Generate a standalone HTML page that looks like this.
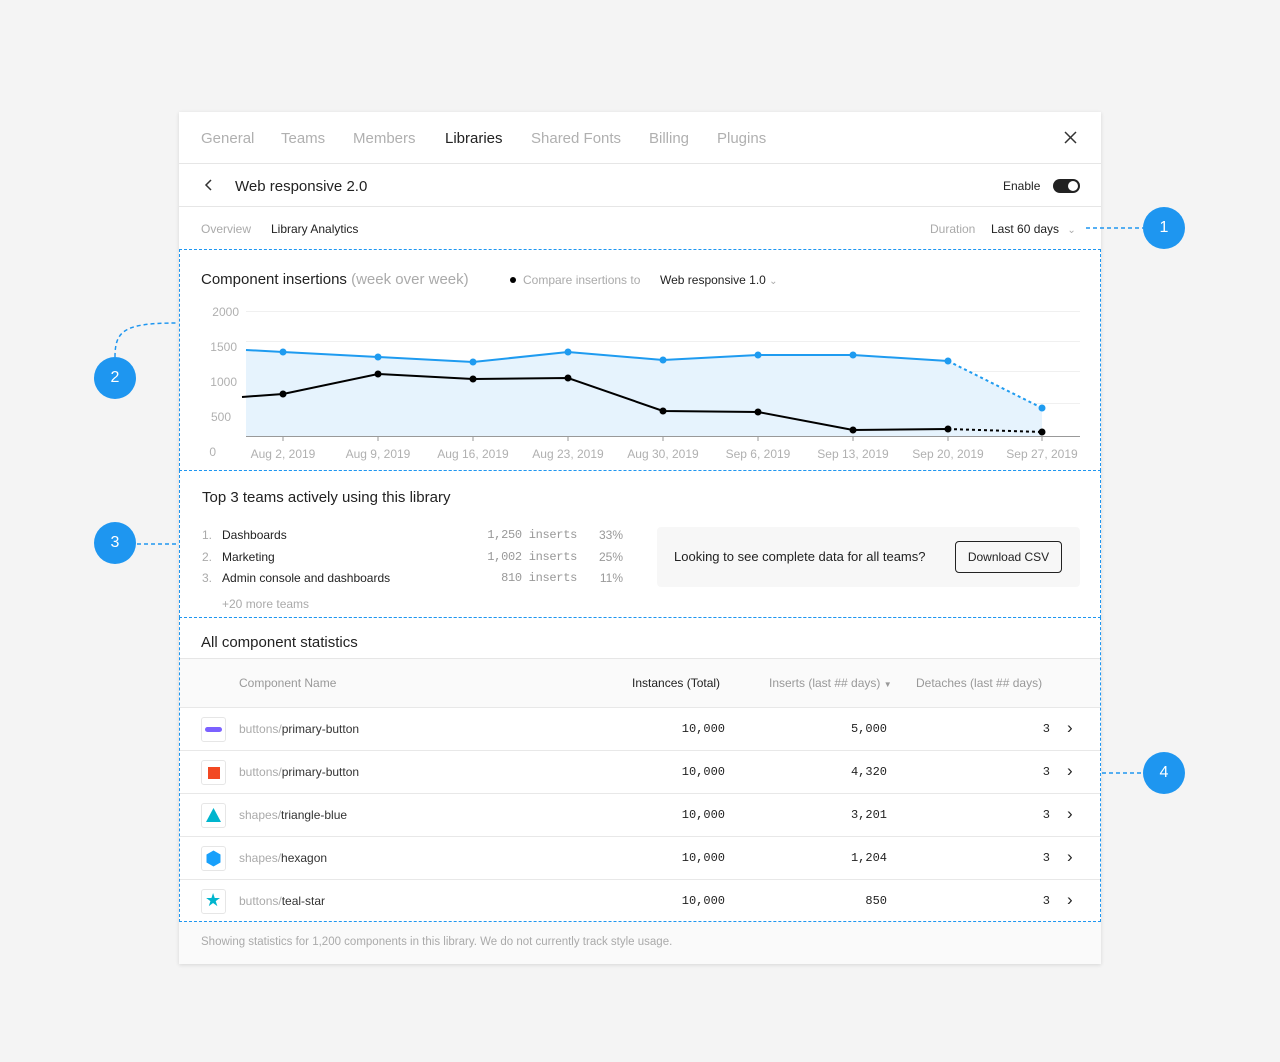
<!DOCTYPE html>
<html><head><meta charset="utf-8"><style>
*{margin:0;padding:0;box-sizing:border-box}
body{width:1280px;height:1062px;background:#f4f4f4;font-family:"Liberation Sans",sans-serif;position:relative;overflow:hidden;color:#222}
.a{position:absolute;white-space:nowrap}
.card{position:absolute;left:179px;top:112px;width:922px;height:852px;background:#fff;box-shadow:0 1px 4px rgba(0,0,0,.12)}
.hl{position:absolute;left:179px;width:922px;height:1px;background:#e6e6e6}
.g{color:#aaa}
.tab{font-size:15px;color:#b0b0b0;top:130px}
.row{position:absolute;left:180px;width:920px;height:43px;border-top:1px solid #e8e8e8}
.ic{position:absolute;left:21px;top:9px;width:25px;height:25px;border:1px solid #e6e6e6;border-radius:3px}
.nm{position:absolute;left:59px;top:14px;font-size:12px;color:#333}
.num{position:absolute;top:14px;font-size:12px;font-family:"Liberation Mono",monospace;color:#222;text-align:right}
.dot{position:absolute;width:42px;height:42px;border-radius:50%;background:#1e96f0;color:#fff;font-size:16px;text-align:center;line-height:42px}
.box{position:absolute;border:1.5px dashed #1e96f0}
</style></head><body>
<div class="card"></div>
<div class="a tab" style="left:201px">General</div>
<div class="a tab" style="left:281px">Teams</div>
<div class="a tab" style="left:353px">Members</div>
<div class="a tab" style="left:445px;color:#222">Libraries</div>
<div class="a tab" style="left:531px">Shared Fonts</div>
<div class="a tab" style="left:649px">Billing</div>
<div class="a tab" style="left:717px">Plugins</div>
<div class="hl" style="top:163px"></div>
<div class="a" style="left:235px;top:178px;font-size:15px;color:#222">Web responsive 2.0</div>
<div class="a" style="left:1003px;top:179px;font-size:12px">Enable</div>
<div class="a" style="left:1053px;top:179px;width:27px;height:14px;border-radius:7px;background:#222"><div style="position:absolute;right:2px;top:2px;width:10px;height:10px;border-radius:5px;background:#fff"></div></div>
<div class="hl" style="top:206px"></div>
<div class="a g" style="left:201px;top:222px;font-size:12px">Overview</div>
<div class="a" style="left:271px;top:222px;font-size:12px">Library Analytics</div>
<div class="a g" style="left:930px;top:222px;font-size:12px">Duration</div>
<div class="a" style="left:991px;top:222px;font-size:12px">Last 60 days <span class="g" style="margin-left:5px;font-size:10px">⌄</span></div>

<div class="a" style="left:201px;top:271px;font-size:15px">Component insertions <span class="g">(week over week)</span></div>
<div class="a" style="left:510px;top:277px;width:6px;height:6px;border-radius:3px;background:#000"></div>
<div class="a g" style="left:523px;top:273px;font-size:12px">Compare insertions to</div>
<div class="a" style="left:660px;top:273px;font-size:12px">Web responsive 1.0 <span class="g" style="font-size:10px">⌄</span></div>
<svg class="a" style="left:0;top:0" width="1280" height="1062">
<g stroke="#333" stroke-width="1.5" fill="none"><line x1="1065" y1="132" x2="1076" y2="143"/><line x1="1076" y1="132" x2="1065" y2="143"/><polyline points="211,180 206,185 211,190"/></g>
<g font-family="Liberation Sans" font-size="12" fill="#b0b0b0" text-anchor="end">
<text x="239" y="316">2000</text><text x="237" y="351">1500</text><text x="237" y="386">1000</text><text x="231" y="421">500</text><text x="216" y="456">0</text></g>
<g stroke="#f0f0f0"><line x1="246" x2="1080" y1="311.5" y2="311.5"/><line x1="246" x2="1080" y1="341.5" y2="341.5"/><line x1="246" x2="1080" y1="371.5" y2="371.5"/><line x1="246" x2="1080" y1="403.5" y2="403.5"/></g>
<polygon fill="#e6f3fd" points="246,350 283,352 378,357 473,362 568,352 663,360 758,355 853,355 948,361 1042,408 1042,436 246,436"/>
<line x1="246" x2="1080" y1="436.5" y2="436.5" stroke="#999"/>
<g stroke="#999"><line x1="283" x2="283" y1="436" y2="441"/><line x1="378" x2="378" y1="436" y2="441"/><line x1="473" x2="473" y1="436" y2="441"/><line x1="568" x2="568" y1="436" y2="441"/><line x1="663" x2="663" y1="436" y2="441"/><line x1="758" x2="758" y1="436" y2="441"/><line x1="853" x2="853" y1="436" y2="441"/><line x1="948" x2="948" y1="436" y2="441"/><line x1="1042" x2="1042" y1="436" y2="441"/></g>
<polyline fill="none" stroke="#1e9bf0" stroke-width="2" points="246,350 283,352 378,357 473,362 568,352 663,360 758,355 853,355 948,361"/>
<line x1="948" y1="361" x2="1042" y2="408" stroke="#1e9bf0" stroke-width="2" stroke-dasharray="3,3"/>
<polyline fill="none" stroke="#000" stroke-width="2" points="242,397 283,394 378,374 473,379 568,378 663,411 758,412 853,430 948,429"/>
<line x1="948" y1="429" x2="1042" y2="432" stroke="#000" stroke-width="2" stroke-dasharray="3,3"/>
<g fill="#1e9bf0"><circle cx="283" cy="352" r="3.5"/><circle cx="378" cy="357" r="3.5"/><circle cx="473" cy="362" r="3.5"/><circle cx="568" cy="352" r="3.5"/><circle cx="663" cy="360" r="3.5"/><circle cx="758" cy="355" r="3.5"/><circle cx="853" cy="355" r="3.5"/><circle cx="948" cy="361" r="3.5"/><circle cx="1042" cy="408" r="3.5"/></g>
<g fill="#000"><circle cx="283" cy="394" r="3.5"/><circle cx="378" cy="374" r="3.5"/><circle cx="473" cy="379" r="3.5"/><circle cx="568" cy="378" r="3.5"/><circle cx="663" cy="411" r="3.5"/><circle cx="758" cy="412" r="3.5"/><circle cx="853" cy="430" r="3.5"/><circle cx="948" cy="429" r="3.5"/><circle cx="1042" cy="432" r="3.5"/></g>
<g font-family="Liberation Sans" font-size="12" fill="#b0b0b0" text-anchor="middle">
<text x="283" y="458">Aug 2, 2019</text><text x="378" y="458">Aug 9, 2019</text><text x="473" y="458">Aug 16, 2019</text><text x="568" y="458">Aug 23, 2019</text><text x="663" y="458">Aug 30, 2019</text><text x="758" y="458">Sep 6, 2019</text><text x="853" y="458">Sep 13, 2019</text><text x="948" y="458">Sep 20, 2019</text><text x="1042" y="458">Sep 27, 2019</text></g>
<g stroke="#1e96f0" stroke-width="1.5" stroke-dasharray="4,3" fill="none">
<line x1="1086" y1="228" x2="1143" y2="228"/>
<path d="M115,357 C115,330 125,323 178,323"/>
<line x1="137" y1="544" x2="178" y2="544"/>
<line x1="1102" y1="773" x2="1143" y2="773"/>
</g>
</svg>

<div class="a" style="left:202px;top:489px;font-size:15px">Top 3 teams actively using this library</div>
<div class="a" style="left:202px;top:525px;font-size:12px;line-height:21.5px"><span class="g">1.</span>&nbsp;&nbsp;&nbsp;Dashboards<br><span class="g">2.</span>&nbsp;&nbsp;&nbsp;Marketing<br><span class="g">3.</span>&nbsp;&nbsp;&nbsp;Admin console and dashboards</div>
<div class="a" style="left:470px;top:525px;font-size:12px;line-height:21.5px;text-align:right;width:107px;color:#999;font-family:'Liberation Mono',monospace;letter-spacing:-.3px">1,250 inserts<br>1,002 inserts<br>810 inserts</div>
<div class="a" style="left:590px;top:525px;font-size:12px;line-height:21.5px;text-align:right;width:33px;color:#999">33%<br>25%<br>11%</div>
<div class="a g" style="left:222px;top:597px;font-size:12px">+20 more teams</div>
<div class="a" style="left:657px;top:527px;width:423px;height:60px;background:#f7f7f7;border-radius:4px"></div>
<div class="a" style="left:674px;top:549px;font-size:13px">Looking to see complete data for all teams?</div>
<div class="a" style="left:955px;top:541px;width:107px;height:32px;border:1px solid #222;border-radius:4px;font-size:12px;text-align:center;line-height:30px">Download CSV</div>

<div class="a" style="left:201px;top:634px;font-size:15px">All component statistics</div>
<div class="a" style="left:180px;top:658px;width:920px;height:49px;background:#fafafa;border-top:1px solid #e6e6e6"></div>
<div class="a g" style="left:239px;top:676px;font-size:12px;color:#999">Component Name</div>
<div class="a" style="left:632px;top:676px;font-size:12px">Instances (Total)</div>
<div class="a" style="left:769px;top:676px;font-size:12px;color:#999">Inserts (last ## days) <span style="font-size:8px">▼</span></div>
<div class="a" style="left:916px;top:676px;font-size:12px;color:#999">Detaches (last ## days)</div>

<div class="row" style="top:707px"><div class="ic"><div style="position:absolute;left:3px;top:9px;width:17px;height:5px;border-radius:3px;background:#7b61ff"></div></div><div class="nm"><span class="g">buttons/</span>primary-button</div><div class="num" style="left:480px;width:65px">10,000</div><div class="num" style="left:640px;width:67px">5,000</div><div class="num" style="left:850px;width:20px">3</div><div class="a" style="left:887px;top:10px;font-size:17px">›</div></div>
<div class="row" style="top:750px"><div class="ic"><div style="position:absolute;left:6px;top:6px;width:12px;height:12px;background:#f24822"></div></div><div class="nm"><span class="g">buttons/</span>primary-button</div><div class="num" style="left:480px;width:65px">10,000</div><div class="num" style="left:640px;width:67px">4,320</div><div class="num" style="left:850px;width:20px">3</div><div class="a" style="left:887px;top:10px;font-size:17px">›</div></div>
<div class="row" style="top:793px"><div class="ic"><svg width="23" height="23" style="position:absolute;left:0;top:0"><polygon points="11.5,4 19,18 4,18" fill="#00b5ce"/></svg></div><div class="nm"><span class="g">shapes/</span>triangle-blue</div><div class="num" style="left:480px;width:65px">10,000</div><div class="num" style="left:640px;width:67px">3,201</div><div class="num" style="left:850px;width:20px">3</div><div class="a" style="left:887px;top:10px;font-size:17px">›</div></div>
<div class="row" style="top:836px"><div class="ic"><svg width="23" height="23" style="position:absolute;left:0;top:0"><polygon points="11.5,3.5 18.5,7.5 18.5,15.5 11.5,19.5 4.5,15.5 4.5,7.5" fill="#18a0fb"/></svg></div><div class="nm"><span class="g">shapes/</span>hexagon</div><div class="num" style="left:480px;width:65px">10,000</div><div class="num" style="left:640px;width:67px">1,204</div><div class="num" style="left:850px;width:20px">3</div><div class="a" style="left:887px;top:10px;font-size:17px">›</div></div>
<div class="row" style="top:879px"><div class="ic"><div style="position:absolute;left:3px;top:0;font-size:18px;color:#00b5ce">★</div></div><div class="nm"><span class="g">buttons/</span>teal-star</div><div class="num" style="left:480px;width:65px">10,000</div><div class="num" style="left:640px;width:67px">850</div><div class="num" style="left:850px;width:20px">3</div><div class="a" style="left:887px;top:10px;font-size:17px">›</div></div>
<div class="a" style="left:179px;top:921px;width:922px;height:43px;background:#fafafa"></div>
<div class="a g" style="left:201px;top:936px;font-size:11.5px">Showing statistics for 1,200 components in this library. We do not currently track style usage.</div>

<div class="box" style="left:179px;top:249px;width:922px;height:222px"></div>
<div class="box" style="left:179px;top:470px;width:922px;height:148px"></div>
<div class="box" style="left:179px;top:617px;width:922px;height:305px"></div>
<div class="dot" style="left:1143px;top:207px">1</div>
<div class="dot" style="left:94px;top:357px">2</div>
<div class="dot" style="left:94px;top:522px">3</div>
<div class="dot" style="left:1143px;top:752px">4</div>
</body></html>
